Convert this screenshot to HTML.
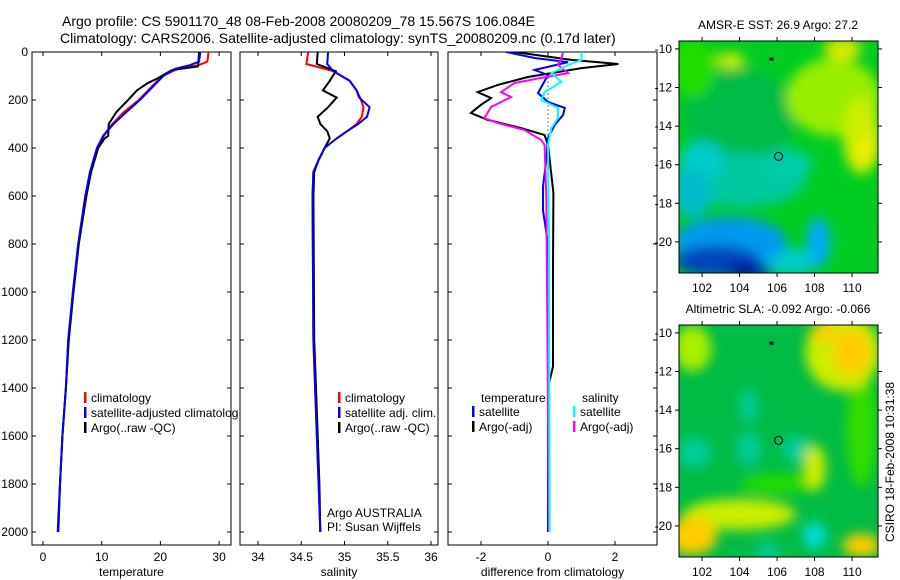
<!DOCTYPE html>
<html><head><meta charset="utf-8"><style>
body{margin:0;background:#fff;}
svg{display:block;font-family:"Liberation Sans",sans-serif;}
</style></head><body>
<svg id="fig" width="900" height="580" xmlns="http://www.w3.org/2000/svg">
<rect width="900" height="580" fill="#fff"/>
<text x="62" y="26" font-size="14">Argo profile: CS 5901170_48 08-Feb-2008 20080209_78 15.567S 106.084E</text>
<text x="60" y="43" font-size="14">Climatology: CARS2006. Satellite-adjusted climatology: synTS_20080209.nc (0.17d later)</text>
<defs>
<clipPath id="c1"><rect x="32" y="52" width="199" height="493"/></clipPath>
<clipPath id="c2"><rect x="240" y="52" width="198" height="493"/></clipPath>
<clipPath id="c3"><rect x="448" y="52" width="209" height="493"/></clipPath>
<clipPath id="cl1"><rect x="0" y="0" width="238" height="580"/></clipPath>
<clipPath id="m1c"><rect x="679" y="41" width="199" height="232"/></clipPath>
<clipPath id="m2c"><rect x="679" y="325" width="199" height="232"/></clipPath>
<filter id="bl" x="-50%" y="-50%" width="200%" height="200%"><feGaussianBlur stdDeviation="6"/></filter>
</defs>
<g id="p1"></g>
<g id="p2"></g>
<g id="p3"></g>
<g id="m1"></g>
<g id="m2"></g>
<text transform="translate(894,462) rotate(-90)" text-anchor="middle" font-size="12">CSIRO 18-Feb-2008 10:31:38</text>
</svg>
<script>
// ---- data ----
const tDepth = [0,40,55,70,100,150,200,250,300,350,400,500,600,800,1000,1200,1400,1600,1800,2000];
const tClim  = [28.2,28,26.5,23,20.3,18.3,16.3,13.8,11.8,10.2,9.2,8,7.2,6,5.1,4.3,3.9,3.3,2.9,2.6];
const tSat   = [26.8,26.6,25,22.5,20.5,18.5,16.5,14.2,12,10.3,9.2,8,7.2,6,5.1,4.3,3.9,3.3,2.9,2.6];
const argoDepthT = [0,60,75,110,130,160,200,250,300,350,360,400,500,600,800,1000,1200,1400,1600,1800,2000];
const tArgo  = [26.6,26.4,22,19.5,17.8,16,14.5,12.5,11.2,11.1,10.5,9.4,8.2,7.4,6.1,5.2,4.4,3.9,3.3,2.9,2.5];
const sDepth = [0,50,80,120,160,190,230,270,300,330,360,400,450,500,600,1200,1400,1800,2000];
const sClim  = [34.58,34.56,34.87,35.06,35.14,35.18,35.22,35.2,35.14,35.03,34.91,34.77,34.7,34.64,34.63,34.64,34.66,34.7,34.72];
const sSat   = [34.81,34.8,34.87,35.06,35.14,35.17,35.29,35.26,35.16,35.03,34.91,34.77,34.7,34.64,34.63,34.64,34.66,34.7,34.72];
const sArgo  = [34.69,34.68,34.9,34.83,34.75,34.91,34.81,34.69,34.72,34.8,34.83,34.77,34.7,34.65,34.64,34.65,34.67,34.71,34.72];
const dDepthA = [0,33,50,67,104,137,167,192,220,254,283,317,346,388,450,587,900,1310,1400,2000];
const dTArgo  = [-1.0,0.7,2.1,1.0,-0.6,-1.5,-2.1,-1.7,-2.0,-2.3,-1.8,-0.8,-0.1,0,0.05,0.16,0.15,0.15,0,0];
const dDepthB = [0,25,42,75,96,171,208,233,262,304,358,450,560,660,800,2000];
const dTSat   = [-1.25,-0.4,0.6,-0.4,0,-0.3,0,0.5,0.45,0.2,0,-0.05,-0.15,-0.15,0,0];
const dDepthC = [0,25,54,88,108,129,167,188,229,275,296,325,367,388,600,2000];
const dSArgo  = [0.45,0.4,0.3,0.6,-0.2,-1.0,-1.4,-1.1,-1.7,-1.9,-1.5,-0.7,-0.2,-0.1,-0.05,0.03];
const dDepthD = [0,33,54,88,125,167,200,233,275,317,388,800,2000];
const dSSat   = [1.0,1.0,0.6,0.1,0.4,-0.1,-0.2,0.3,0.3,0.1,0,0.03,0.05];
const depthTicks = [0,200,400,600,800,1000,1200,1400,1600,1800,2000];
const tTicks = [0,10,20,30];
const sTicks = [34,34.5,35,35.5,36];
const dTicks = [-2,0,2];
const mapLonTicks = [102,104,106,108,110];
const mapLatTicks = [-10,-12,-14,-16,-18,-20];

const NS='http://www.w3.org/2000/svg';
function mk(parent,tag,attrs,txt){const e=document.createElementNS(NS,tag);for(const k in attrs)e.setAttribute(k,attrs[k]);if(txt!==undefined)e.textContent=txt;parent.appendChild(e);return e;}
const yD = d => 52 + d*0.24;
function panel(g,x0,w,xf,ticks,label,clip){
  const r=mk(g,'rect',{x:x0,y:52,width:w,height:493,fill:'none',stroke:'#000','stroke-width':1});
  
  
  depthTicks.forEach(d=>{
    mk(g,'line',{x1:x0,x2:x0+4,y1:yD(d),y2:yD(d),stroke:'#000'});
    mk(g,'line',{x1:x0+w-4,x2:x0+w,y1:yD(d),y2:yD(d),stroke:'#000'});
    if(x0<40){const t=mk(g,'text',{x:28,y:yD(d)+4,'text-anchor':'end','font-size':12},d);
      
      }
  });
  ticks.forEach(v=>{
    const x=xf(v);
    mk(g,'line',{x1:x,x2:x,y1:545,y2:541,stroke:'#000'});
    mk(g,'line',{x1:x,x2:x,y1:52,y2:56,stroke:'#000'});
    const t=mk(g,'text',{x:x,y:561,'text-anchor':'middle','font-size':12},v);
    
    
  });
  const xl=mk(g,'text',{x:x0+w/2,y:576,'text-anchor':'middle','font-size':12},label);
  
  
}
function line(g,xs,ds,xf,color,clip,name){
  const p=mk(g,'polyline',{points:xs.map((v,i)=>xf(v).toFixed(1)+','+yD(ds[i]).toFixed(1)).join(' '),fill:'none',stroke:color,'stroke-width':2,'clip-path':'url(#'+clip+')'});
  
  
}
function legend(g,x,y,color,text,clip){
  mk(g,'rect',{x:x,y:y-10,width:2.5,height:11,fill:color});
  const t=mk(g,'text',{x:x+7,y:y,'font-size':12},text);
  if(clip) t.setAttribute('clip-path','url(#'+clip+')');
  
  
}
// Panel 1
const g1=document.getElementById('p1');
const xT=v=>43+5.87*v;
panel(g1,32,199,xT,tTicks,'temperature');
line(g1,tClim,tDepth,xT,'#f00','c1','temp-climatology-line');
line(g1,tArgo,argoDepthT,xT,'#000','c1','temp-argo-line');
line(g1,tSat,tDepth,xT,'#00f','c1','temp-satellite-line');
legend(g1,84,402,'#f00','climatology');
legend(g1,84,417,'#00f','satellite-adjusted climatology','cl1');
legend(g1,84,432,'#000','Argo(..raw -QC)');
// Panel 2
const g2=document.getElementById('p2');
const xS=v=>258+86.5*(v-34);
panel(g2,240,198,xS,sTicks,'salinity');
line(g2,sClim,sDepth,xS,'#f00','c2','sal-climatology-line');
line(g2,sArgo,sDepth,xS,'#000','c2','sal-argo-line');
line(g2,sSat,sDepth,xS,'#00f','c2','sal-satellite-line');
legend(g2,338,402,'#f00','climatology');
legend(g2,338,417,'#00f','satellite adj. clim.');
legend(g2,338,432,'#000','Argo(..raw -QC)');
mk(g2,'text',{x:327,y:517,'font-size':12},'Argo AUSTRALIA');
mk(g2,'text',{x:327,y:531,'font-size':12},'PI: Susan Wijffels');
// Panel 3
const g3=document.getElementById('p3');
const xDf=v=>548+33.5*v;
panel(g3,448,209,xDf,dTicks,'difference from climatology');
mk(g3,'line',{x1:548,x2:548,y1:yD(90),y2:yD(400),stroke:'#000','stroke-dasharray':'1,3'});
line(g3,dTArgo,dDepthA,xDf,'#000','c3','dtemp-argo-line');
line(g3,dTSat,dDepthB,xDf,'#00f','c3','dtemp-satellite-line');
line(g3,dSArgo,dDepthC,xDf,'#f0f','c3','dsal-argo-line');
line(g3,dSSat,dDepthD,xDf,'#0ff','c3','dsal-satellite-line');
mk(g3,'text',{x:481,y:402,'font-size':12},'temperature');
mk(g3,'text',{x:582,y:402,'font-size':12},'salinity');
legend(g3,472,416,'#00f','satellite');
legend(g3,472,431,'#000','Argo(-adj)');
legend(g3,573,416,'#0ff','satellite');
legend(g3,573,431,'#f0f','Argo(-adj)');
// Maps
const mx=lon=>679+(lon-100.77)*18.75;
function map(g,top,clip,base,blobs,title){
  const my=lat=>top+(-9.59-lat)*19.3;
  mk(g,'rect',{x:679,y:top,width:199,height:232,fill:base});
  const bg=mk(g,'g',{'clip-path':'url(#'+clip+')'});
  const fg=mk(bg,'g',{filter:'url(#bl)'});
  blobs.forEach(b=>mk(fg,'ellipse',{cx:mx(b[0]),cy:my(b[1]),rx:b[2]*18.75,ry:b[3]*19.3,fill:b[4]}));
  mk(g,'rect',{x:679,y:top,width:199,height:232,fill:'none',stroke:'#000'});
  mk(g,'circle',{cx:mx(106.08),cy:my(-15.57),r:4,fill:'none',stroke:'#000','stroke-width':1});
  mk(g,'rect',{x:mx(105.6),y:my(-10.45),width:4,height:3,fill:'#000'});
  mapLonTicks.forEach(v=>{
    mk(g,'line',{x1:mx(v),x2:mx(v),y1:top,y2:top-4,stroke:'#000'});
    mk(g,'line',{x1:mx(v),x2:mx(v),y1:top+232,y2:top+236,stroke:'#000'});
    const t=mk(g,'text',{x:mx(v),y:top+251,'text-anchor':'middle','font-size':12},v);
    
    
  });
  mapLatTicks.forEach(v=>{
    mk(g,'line',{x1:675,x2:679,y1:my(v),y2:my(v),stroke:'#000'});
    mk(g,'line',{x1:878,x2:882,y1:my(v),y2:my(v),stroke:'#000'});
    const t=mk(g,'text',{x:672,y:my(v)+4,'text-anchor':'end','font-size':12},v);
    
    
  });
  const tt=mk(g,'text',{x:778,y:top-12,'text-anchor':'middle','font-size':12},title);
  
  
}
map(document.getElementById('m1'),41,'m1c','#00cc22',[
 [104,-13.5,3,2.5,'#00bb44'],[101.5,-11,1.2,1.5,'#22dd00'],
 [109,-12.5,2.5,2,'#99ee00'],[110.5,-14.5,1,2,'#ccee00'],[110.8,-15.3,0.6,0.8,'#eeee00'],
 [109.5,-10,1,0.6,'#dde800'],[103.5,-10.6,0.8,0.4,'#ccee00'],
 [104,-16.8,3.5,1.4,'#00c8a0'],[106.5,-16,1.4,0.8,'#00ccaa'],[102,-15.8,1.2,1,'#00cccc'],[101.5,-17.5,1,1.3,'#00bbcc'],
 [106.5,-21,1.8,0.7,'#00cccc'],[103.5,-20,3,1.3,'#0099ee'],[108.2,-20,0.6,1.3,'#00aaff'],
 [102.8,-21,2.3,0.8,'#0044bb'],[104.5,-21.5,1.3,0.4,'#001199'],[110.5,-20,1,1.5,'#00cc22']
],'AMSR-E SST: 26.9 Argo: 27.2');
map(document.getElementById('m2'),325,'m2c','#00bb44',[
 [110.5,-15,0.8,3,'#33dd00'],[106,-17.8,2,0.5,'#22dd00'],
 [101.6,-16.2,0.9,0.8,'#00cc99'],[104.5,-16,0.7,0.9,'#00cc99'],[104.5,-13.8,0.5,0.9,'#00cc99'],[107,-16,0.8,0.7,'#00cc99'],[105.5,-21.3,0.7,0.4,'#00cc99'],
 [109.5,-11,2,2,'#ccee00'],[110,-11,1,1.2,'#ffcc00'],[108.5,-10,0.8,0.4,'#ffcc00'],
 [101.5,-10.8,1,1.2,'#aaee00'],[104,-19.4,3,0.8,'#ccee00'],[108,-17,0.6,1.2,'#ccee00'],
 [101.5,-20.5,1.3,1,'#ffcc00'],[110.5,-21,1,0.6,'#ffcc00'],[108,-20.5,0.6,0.7,'#00dddd']
],'Altimetric SLA: -0.092 Argo: -0.066');
</script>
</body></html>
